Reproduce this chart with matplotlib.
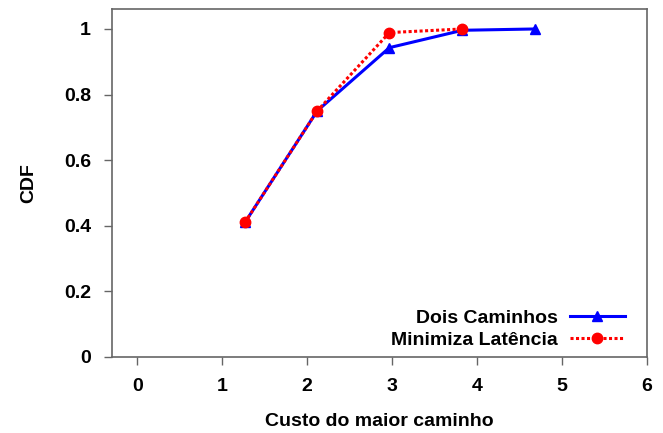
import matplotlib
matplotlib.use('Agg')
import matplotlib.pyplot as plt

plt.rcParams['font.family'] = ['Liberation Sans', 'DejaVu Sans']
plt.rcParams['font.weight'] = 'bold'

# Data
dois_x = [1.27, 2.12, 2.97, 3.83, 4.68]
dois_y = [0.41, 0.75, 0.943, 0.996, 1.0]
lat_x = [1.27, 2.12, 2.97, 3.83]
lat_y = [0.41, 0.75, 0.989, 1.0]
xticks = [0, 1, 2, 3, 4, 5, 6]
yticks = [0, 0.2, 0.4, 0.6, 0.8, 1]
ytick_labels = ['0', '0.2', '0.4', '0.6', '0.8', '1']

fig = plt.figure(figsize=(6.63, 4.33), dpi=100)
ax = fig.add_axes([0.1685, 0.1762, 0.8069, 0.8023])

ax.plot(dois_x, dois_y, color='#0000ff', lw=2.2, marker='^', markersize=7,
        label='Dois Caminhos')
ax.plot(lat_x, lat_y, color='#ff0000', lw=2.2, linestyle=(0, (1, 0.8)),
        marker='o', markersize=7.5, label='Minimiza Latência')

ax.set_xlim(-0.3, 6)
ax.set_ylim(0, 1.06)
ax.set_xticks(xticks)
ax.set_yticks(yticks)
ax.set_yticklabels(ytick_labels)

for s in ax.spines.values():
    s.set_color('#666666')
    s.set_linewidth(1.2)
ax.tick_params(direction='out', length=6, width=1, color='#666666',
               labelsize=14, pad=9)
ax.tick_params(axis='x', pad=9)
for lab in ax.get_xticklabels() + ax.get_yticklabels():
    lab.set_fontweight('bold')

ax.set_xlabel('Custo do maior caminho', fontsize=14, fontweight='bold', labelpad=13)
ax.set_ylabel('CDF', fontsize=14, fontweight='bold', labelpad=19)

leg = ax.legend(loc='lower right', bbox_to_anchor=(0.974, 0.0), frameon=False,
                markerfirst=False, fontsize=14, handlelength=2.85,
                handletextpad=0.62, labelspacing=0.23, borderaxespad=0)
for t in leg.get_texts():
    t.set_fontweight('bold')
    t.set_horizontalalignment('right')
leg._legend_box.align = 'right'

fig.savefig('out.png', dpi=100)
